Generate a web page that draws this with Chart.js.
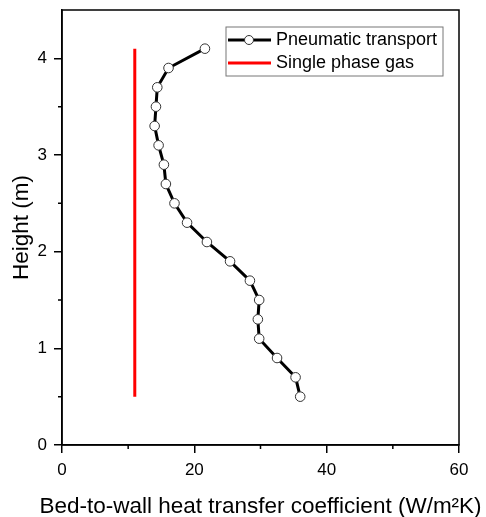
<!DOCTYPE html>
<html>
<head>
<meta charset="utf-8">
<script src="https://cdn.jsdelivr.net/npm/chart.js@4/dist/chart.umd.min.js"></script>
<style>
  html, body { margin: 0; padding: 0; background: #ffffff; }
  #wrap { width: 486px; height: 517px; }
</style>
</head>
<body>
<div id="wrap"><canvas id="heatChart" width="486" height="517"></canvas></div>
<script>
const heights = [0.5, 0.7, 0.9, 1.1, 1.3, 1.5, 1.7, 1.9, 2.1, 2.3, 2.5, 2.7, 2.9, 3.1, 3.3, 3.5, 3.7, 3.9, 4.1];
const pneumaticCoeff = [36.0, 35.3, 32.5, 29.8, 29.6, 29.8, 28.4, 25.4, 21.9, 18.9, 17.0, 15.7, 15.4, 14.6, 14.0, 14.2, 14.4, 16.1, 21.6];
const gasCoeff = [11.0, 11.0];
const gasHeights = [0.5, 4.1];
const seriesNames = ["Pneumatic transport", "Single phase gas"];
const xTitle = "Bed-to-wall heat transfer coefficient (W/m\u00B2K)";
const yTitle = "Height (m)";

const font = "Arial, 'Liberation Sans', sans-serif";

function isMinor(value, step) {
    return Math.abs(value / step - Math.round(value / step)) > 1e-6;
}

const frame = {
    id: "frame",
    afterDraw(chart) {
        const { ctx, chartArea: a } = chart;
        ctx.save();
        ctx.strokeStyle = "#000";
        ctx.lineWidth = 1.5;
        ctx.strokeRect(a.left, a.top, a.right - a.left, a.bottom - a.top);

        // short minor ticks
        const xs = chart.scales.x, ys = chart.scales.y;
        ctx.beginPath();
        xs.ticks.forEach(t => {
            if (isMinor(t.value, 20)) {
                const px = xs.getPixelForValue(t.value);
                ctx.moveTo(px, a.bottom);
                ctx.lineTo(px, a.bottom + 4);
            }
        });
        ys.ticks.forEach(t => {
            if (isMinor(t.value, 1) && t.value < ys.max) {
                const py = ys.getPixelForValue(t.value);
                ctx.moveTo(a.left, py);
                ctx.lineTo(a.left - 4, py);
            }
        });
        ctx.stroke();

        // x title drawn here so it is not squeezed to the plot width
        ctx.font = "22.5px " + font;
        ctx.fillStyle = "#000";
        ctx.textAlign = "center";
        ctx.textBaseline = "middle";
        ctx.fillText(xTitle, (a.left + a.right) / 2, a.bottom + 62);

        // legend box inside the plot
        ctx.textAlign = "left";
        const x0 = a.left + 164, y0 = a.top + 17, w = 217, h = 49;
        ctx.lineWidth = 1;
        ctx.strokeStyle = "#777";
        ctx.strokeRect(x0, y0, w, h);
        ctx.font = "18px " + font;
        const rows = [y0 + 13, y0 + 36];
        ctx.strokeStyle = "#000";
        ctx.lineWidth = 3;
        ctx.beginPath();
        ctx.moveTo(x0 + 2, rows[0]);
        ctx.lineTo(x0 + 45, rows[0]);
        ctx.stroke();
        ctx.beginPath();
        ctx.arc(x0 + 23, rows[0], 4.5, 0, Math.PI * 2);
        ctx.fillStyle = "#fff";
        ctx.fill();
        ctx.lineWidth = 1;
        ctx.strokeStyle = "#333";
        ctx.stroke();
        ctx.strokeStyle = "#ff0000";
        ctx.lineWidth = 3;
        ctx.beginPath();
        ctx.moveTo(x0 + 2, rows[1]);
        ctx.lineTo(x0 + 45, rows[1]);
        ctx.stroke();
        ctx.fillStyle = "#000";
        ctx.fillText(seriesNames[0], x0 + 50, rows[0]);
        ctx.fillText(seriesNames[1], x0 + 50, rows[1]);
        ctx.restore();
    }
};

new Chart(document.getElementById("heatChart"), {
    type: "scatter",
    data: {
        datasets: [{
            label: seriesNames[1],
            data: gasHeights.map((y, i) => ({ x: gasCoeff[i], y })),
            showLine: true,
            borderColor: "#ff0000",
            borderWidth: 3,
            pointRadius: 0
        }, {
            label: seriesNames[0],
            data: heights.map((y, i) => ({ x: pneumaticCoeff[i], y })),
            showLine: true,
            borderColor: "#000",
            borderWidth: 3,
            pointRadius: 4.8,
            pointBackgroundColor: "#fff",
            pointBorderColor: "#333",
            pointBorderWidth: 1
        }]
    },
    options: {
        responsive: false,
        animation: false,
        layout: { padding: { top: 10, right: 27, left: 0, bottom: 0 } },
        plugins: {
            legend: { display: false },
            tooltip: { enabled: false }
        },
        scales: {
            x: {
                type: "linear",
                min: 0,
                max: 60,
                afterFit(scale) {
                    scale.height = 72;
                    scale.paddingLeft = 0;
                    scale.paddingRight = 0;
                },
                border: { color: "#000", width: 1.5 },
                grid: {
                    drawOnChartArea: false,
                    tickLength: 8,
                    lineWidth: 1.5,
                    tickColor: ctx => isMinor(ctx.tick.value, 20) ? "rgba(0,0,0,0)" : "#000"
                },
                ticks: {
                    stepSize: 10,
                    color: "#000",
                    font: { size: 17, family: font },
                    padding: 7,
                    maxRotation: 0,
                    callback(value) { return value % 20 === 0 ? value : ""; }
                }
            },
            y: {
                type: "linear",
                min: 0,
                max: 4.5,
                afterFit(scale) {
                    scale.width = 62;
                    scale.paddingTop = 0;
                    scale.paddingBottom = 0;
                },
                border: { color: "#000", width: 1.5 },
                grid: {
                    drawOnChartArea: false,
                    tickLength: 8,
                    lineWidth: 1.5,
                    tickColor: ctx => isMinor(ctx.tick.value, 1) ? "rgba(0,0,0,0)" : "#000"
                },
                ticks: {
                    stepSize: 0.5,
                    color: "#000",
                    font: { size: 17, family: font },
                    padding: 7,
                    callback(value) { return value % 1 === 0 ? value : ""; }
                },
                title: {
                    display: true,
                    text: yTitle,
                    color: "#000",
                    font: { size: 22.5, family: font, lineHeight: 1 },
                    padding: { top: 11, bottom: 0 }
                }
            }
        }
    },
    plugins: [frame]
});
</script>
</body>
</html>
